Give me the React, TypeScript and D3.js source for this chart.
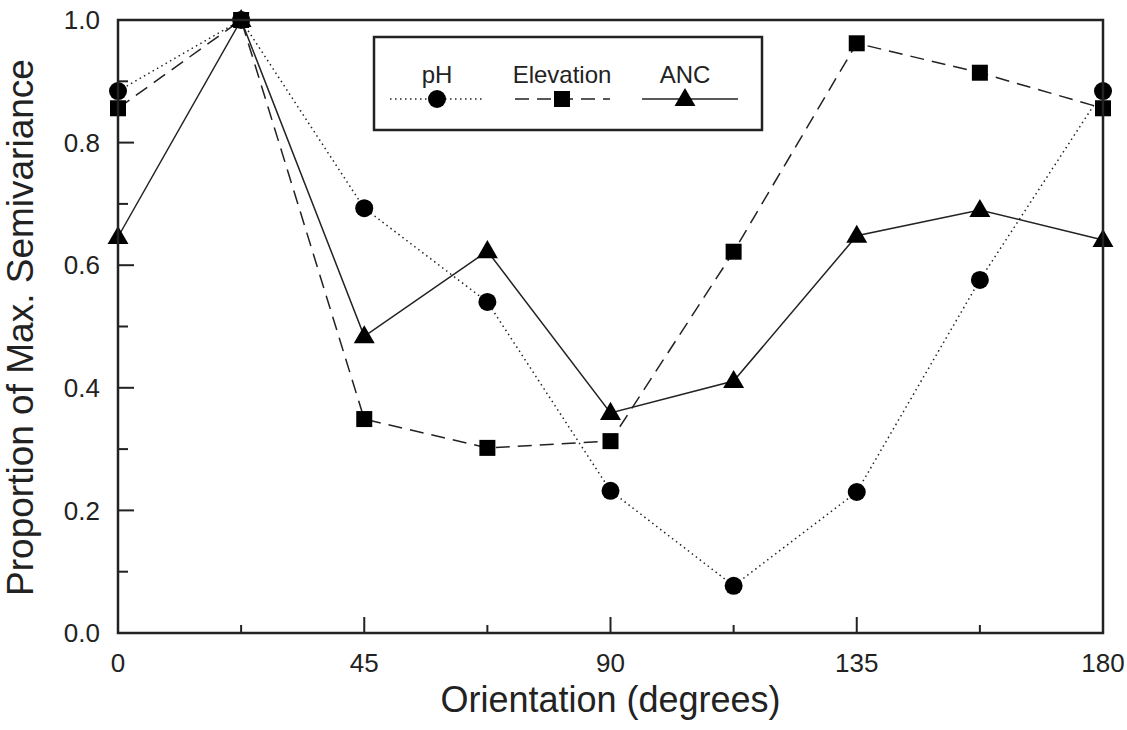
import * as d3 from 'd3';

const orientations = [0, 22.5, 45, 67.5, 90, 112.5, 135, 157.5, 180];
const phValues = [0.884, 1.0, 0.693, 0.54, 0.232, 0.077, 0.23, 0.576, 0.884];
const elevationValues = [0.856, 1.0, 0.349, 0.302, 0.313, 0.622, 0.962, 0.914, 0.856];
const ancValues = [0.646, 1.0, 0.484, 0.623, 0.359, 0.411, 0.648, 0.69, 0.641];
const xTickValues = [0, 45, 90, 135, 180];
const xMinorTicks = [22.5, 67.5, 112.5, 157.5];
const yTickValues = [0, 0.2, 0.4, 0.6, 0.8, 1.0];
const yMinorTicks = [0.1, 0.3, 0.5, 0.7, 0.9];

const series = [
  { label: 'pH', values: phValues, marker: 'circle', dash: '1.5,3.5' },
  { label: 'Elevation', values: elevationValues, marker: 'square', dash: '14,8' },
  { label: 'ANC', values: ancValues, marker: 'triangle', dash: null },
];

const W = 1127;
const H = 730;
const margin = { top: 20, right: 24, bottom: 97, left: 118 };
const font = '"Liberation Sans", Arial, Helvetica, sans-serif';
const ink = '#222';

function Marker({ type, x, y, scale = 1 }) {
  if (type === 'circle') return <circle cx={x} cy={y} r={9 * scale} fill="#000" />;
  if (type === 'square') {
    const s = 16 * scale;
    return <rect x={x - s / 2} y={y - s / 2} width={s} height={s} fill="#000" />;
  }
  const sym = d3.symbol(d3.symbolTriangle, 190 * scale * scale)();
  return <path d={sym} transform={`translate(${x},${y + 1})`} fill="#000" />;
}

export default function App() {
  const innerW = W - margin.left - margin.right;
  const innerH = H - margin.top - margin.bottom;
  const x = d3.scaleLinear().domain([0, 180]).range([0, innerW]);
  const y = d3.scaleLinear().domain([0, 1]).range([innerH, 0]);
  const line = d3.line<number>().x((_, i) => x(orientations[i])).y((d) => y(d));

  const legend = { x: 374 - margin.left, y: 37 - margin.top, w: 388, h: 93 };
  const legendItems = [
    { cx: 437, x1: 390, x2: 485 },
    { cx: 562, x1: 515, x2: 610 },
    { cx: 685, x1: 642, x2: 738 },
  ];

  return (
    <svg width={W} height={H} style={{ position: 'absolute', left: 0, top: 0, background: '#fff' }}>
      <g transform={`translate(${margin.left},${margin.top})`}>
        {/* Series lines */}
        {series.map((s) => (
          <path
            key={s.label}
            d={line(s.values) || ''}
            fill="none"
            stroke={ink}
            strokeWidth={1.5}
            strokeDasharray={s.dash || undefined}
          />
        ))}

        {/* Markers */}
        {series.map((s) =>
          s.values.map((v, i) => (
            <Marker key={`${s.label}-${i}`} type={s.marker} x={x(orientations[i])} y={y(v)} />
          ))
        )}

        {/* Frame */}
        <rect x={0} y={0} width={innerW} height={innerH} fill="none" stroke={ink} strokeWidth={2.5} />

        {/* X ticks */}
        {xTickValues.map((t) => (
          <g key={`xt-${t}`} transform={`translate(${x(t)},${innerH})`}>
            <line y1={0} y2={-16} stroke={ink} strokeWidth={2} />
            <text y={39} textAnchor="middle" fontSize={26} fontFamily={font} fill={ink}>
              {t}
            </text>
          </g>
        ))}
        {xMinorTicks.map((t) => (
          <line key={`xm-${t}`} x1={x(t)} x2={x(t)} y1={innerH} y2={innerH - 8} stroke={ink} strokeWidth={2} />
        ))}

        {/* Y ticks */}
        {yTickValues.map((t) => (
          <g key={`yt-${t}`} transform={`translate(0,${y(t)})`}>
            <line x1={0} x2={16} stroke={ink} strokeWidth={2} />
            <text x={-18} dy="0.35em" textAnchor="end" fontSize={26} fontFamily={font} fill={ink}>
              {d3.format('.1f')(t)}
            </text>
          </g>
        ))}
        {yMinorTicks.map((t) => (
          <line key={`ym-${t}`} x1={0} x2={10} y1={y(t)} y2={y(t)} stroke={ink} strokeWidth={2} />
        ))}

        {/* Axis titles */}
        <text x={innerW / 2} y={innerH + 79} textAnchor="middle" fontSize={36} fontFamily={font} fill={ink}>
          Orientation (degrees)
        </text>
        <text
          transform={`translate(${-85},${innerH / 2 + 1}) rotate(-90)`}
          textAnchor="middle"
          fontSize={37}
          fontFamily={font}
          fill={ink}
        >
          Proportion of Max. Semivariance
        </text>

        {/* Legend */}
        <rect x={legend.x} y={legend.y} width={legend.w} height={legend.h} fill="#fff" stroke={ink} strokeWidth={2.5} />
        {series.map((s, i) => {
          const it = legendItems[i];
          const ly = 99 - margin.top;
          return (
            <g key={`lg-${s.label}`}>
              <text x={it.cx - margin.left} y={83 - margin.top} textAnchor="middle" fontSize={24} fontFamily={font} fill={ink}>
                {s.label}
              </text>
              <line
                x1={it.x1 - margin.left}
                x2={it.x2 - margin.left}
                y1={ly}
                y2={ly}
                stroke={ink}
                strokeWidth={1.5}
                strokeDasharray={s.dash || undefined}
              />
              <Marker type={s.marker} x={it.cx - margin.left} y={ly} scale={1} />
            </g>
          );
        })}
      </g>
    </svg>
  );
}
